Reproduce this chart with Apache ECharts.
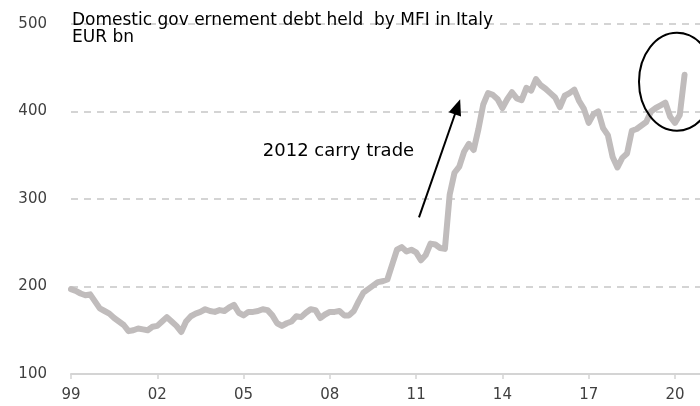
<!DOCTYPE html>
<html>
<head>
<meta charset="utf-8">
<script src="https://cdn.jsdelivr.net/npm/echarts@6/dist/echarts.min.js"></script>
<style>
  html, body { margin: 0; padding: 0; background: #fff; }
  #main { width: 700px; height: 406px; }
</style>
</head>
<body>
<div id="main"></div>
<script>
// bi-monthly readings, Jan 1999 onwards (EUR bn)
var startYear = 1999;
var stepMonths = 2;
var debt = [
    197, 195, 192, 190, 191, 183, 175, 172, 169, 164, 160, 156,
    149, 150, 152, 151, 150, 154, 155, 160, 165, 160, 155, 148,
    160, 166, 169, 171, 174, 172, 171, 173, 172, 176, 179, 170,
    167, 171, 171, 172, 174, 173, 167, 158, 155, 158, 160, 166,
    165, 170, 174, 173, 164, 168, 171, 171, 172, 167, 167, 172,
    183, 193, 197, 201, 205, 206, 208, 225, 242, 245, 240, 242,
    239, 230, 236, 249, 248, 244, 243, 305, 330, 337, 354, 363,
    356, 380, 408, 421, 419, 414, 404, 414, 422, 415, 413, 427,
    424, 437, 430, 426, 421, 416, 405, 418, 421, 425, 412, 403,
    387, 397, 400, 381, 373, 348, 336, 347, 352, 378, 380, 384,
    388, 400, 404, 407, 410, 394, 387, 396, 442
];
var yearTicks = [0, 3, 6, 9, 12, 15, 18, 21];   // years after 1999
var titleLines = ['Domestic gov ernement debt held  by MFI in Italy', 'EUR bn'];
var noteText = '2012 carry trade';

var seriesData = debt.map(function (v, i) {
    return [i * stepMonths / 12, v];
});

var chart = echarts.init(document.getElementById('main'));
var font = '"DejaVu Sans", sans-serif';

var option = {
    animation: false,
    backgroundColor: '#fff',
    title: {
        text: titleLines.join('\n'),
        left: 72,
        top: 12,
        padding: 0,
        textStyle: {
            fontFamily: font,
            fontSize: 17,
            fontWeight: 'normal',
            color: '#000',
            lineHeight: 17
        }
    },
    grid: { left: 71, right: 0, top: 24, bottom: 32 },
    xAxis: {
        type: 'value',
        min: 0,
        max: 21.87,
        interval: 3,
        axisLine: { show: true, lineStyle: { color: '#d4d4d4', width: 2 } },
        axisTick: {
            show: true, length: 5, customValues: yearTicks,
            lineStyle: { color: '#d4d4d4', width: 1.5 }
        },
        axisLabel: {
            customValues: yearTicks,
            margin: 14,
            fontFamily: font,
            fontSize: 15,
            color: '#404040',
            formatter: function (v) {
                var y = (startYear + Math.round(v)) % 100;
                return (y < 10 ? '0' : '') + y;
            }
        },
        splitLine: { show: false }
    },
    yAxis: {
        type: 'value',
        min: 100,
        max: 500,
        interval: 100,
        axisLine: { show: false },
        axisTick: { show: false },
        axisLabel: {
            margin: 24,
            fontFamily: font,
            fontSize: 15,
            color: '#404040'
        },
        splitLine: {
            show: true,
            lineStyle: { color: '#d4d4d4', width: 2, type: [7, 6] }
        }
    },
    series: [{
        type: 'line',
        data: seriesData,
        showSymbol: false,
        smooth: false,
        lineStyle: { color: '#c0bcbc', width: 6, join: 'round', cap: 'round' },
        z: 3
    }]
};

chart.setOption(option);

// annotations placed in data coordinates
var arrowFrom = chart.convertToPixel({ gridIndex: 0 }, [12.1, 279]);
var arrowTo = chart.convertToPixel({ gridIndex: 0 }, [13.53, 414]);
var ringCenter = chart.convertToPixel({ gridIndex: 0 }, [21.07, 434]);
var notePos = chart.convertToPixel({ gridIndex: 0 }, [6.67, 355]);

var dx = arrowTo[0] - arrowFrom[0], dy = arrowTo[1] - arrowFrom[1];
var len = Math.sqrt(dx * dx + dy * dy);
var ux = dx / len, uy = dy / len;
var headLen = 16, headHalf = 6.5;
var bx = arrowTo[0] - ux * headLen, by = arrowTo[1] - uy * headLen;

chart.setOption({
    graphic: [
        {
            type: 'line',
            shape: { x1: arrowFrom[0], y1: arrowFrom[1], x2: bx + ux * 2, y2: by + uy * 2 },
            style: { stroke: '#000', lineWidth: 2 },
            z: 10
        },
        {
            type: 'polygon',
            shape: {
                points: [
                    [arrowTo[0], arrowTo[1]],
                    [bx - uy * headHalf, by + ux * headHalf],
                    [bx + uy * headHalf, by - ux * headHalf]
                ]
            },
            style: { fill: '#000' },
            z: 10
        },
        {
            type: 'ellipse',
            shape: { cx: ringCenter[0], cy: ringCenter[1], rx: 38, ry: 49 },
            style: { fill: null, stroke: '#000', lineWidth: 2 },
            z: 10
        },
        {
            type: 'text',
            x: notePos[0],
            y: notePos[1],
            style: {
                text: noteText,
                fontFamily: font,
                fontSize: 18,
                fill: '#000',
                textAlign: 'left',
                textVerticalAlign: 'middle'
            },
            z: 10
        }
    ]
});
</script>
</body>
</html>
